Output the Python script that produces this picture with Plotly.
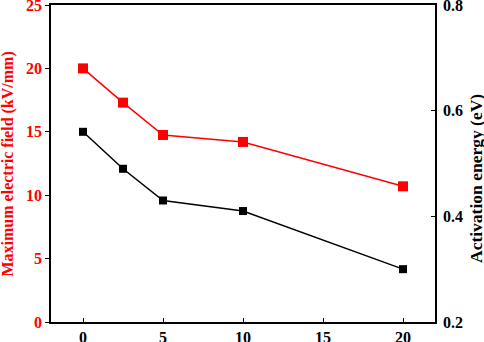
import plotly.graph_objects as go

x_vals = [0, 2.5, 5, 10, 20]
field_kv_mm = [20.0, 17.3, 14.75, 14.2, 10.7]
activation_ev = [0.56, 0.49, 0.43, 0.41, 0.30]

font_family = "Liberation Serif"
tick_size = 16

fig = go.Figure()
fig.add_trace(go.Scatter(
    x=x_vals, y=field_kv_mm, mode="lines+markers",
    line=dict(color="#ff0000", width=1.5),
    marker=dict(symbol="square", size=10, color="#ff0000"),
    yaxis="y", showlegend=False, cliponaxis=False,
))
fig.add_trace(go.Scatter(
    x=x_vals, y=activation_ev, mode="lines+markers",
    line=dict(color="#000000", width=1.5),
    marker=dict(symbol="square", size=8, color="#000000"),
    yaxis="y2", showlegend=False, cliponaxis=False,
))

fig.update_layout(
    width=484, height=342,
    margin=dict(l=51, r=49, t=5, b=20, autoexpand=False),
    paper_bgcolor="white", plot_bgcolor="white",
    font=dict(family=font_family, size=tick_size, color="black"),
    xaxis=dict(
        range=[-2, 22], tickvals=[0, 5, 10, 15, 20],
        showline=True, linecolor="black", linewidth=1.5, mirror=True,
        ticks="inside", ticklen=4, tickwidth=1, tickcolor="black",
        showgrid=False, zeroline=False, automargin=False,
        ticklabelstandoff=0, ticklabeloverflow="allow",
        tickfont=dict(family=font_family, size=tick_size, color="black", weight="bold"),
    ),
    yaxis=dict(
        range=[0, 25], tickvals=[0, 5, 10, 15, 20, 25],
        showline=True, linecolor="black", linewidth=1.5,
        ticks="outside", ticklen=4, tickwidth=1, tickcolor="black",
        showgrid=False, zeroline=False, automargin=False,
        ticklabeloverflow="allow",
        tickfont=dict(family=font_family, size=tick_size, color="#ff0000", weight="bold"),
    ),
    yaxis2=dict(
        range=[0.2, 0.8], tickvals=[0.2, 0.4, 0.6, 0.8], tickformat=".1f",
        overlaying="y", side="right",
        showline=True, linecolor="black", linewidth=1.5,
        ticks="inside", ticklen=4, tickwidth=1, tickcolor="black",
        showgrid=False, zeroline=False, automargin=False,
        ticklabelstandoff=3, ticklabeloverflow="allow",
        tickfont=dict(family=font_family, size=tick_size, color="black", weight="bold"),
    ),
    annotations=[
        dict(text="<b>Maximum electric field (kV/mm)</b>", textangle=-90,
             xref="paper", yref="paper", x=-51/384 + 7.5/384, y=(322 - 164) / 317,
             xanchor="center", yanchor="middle", showarrow=False,
             font=dict(family=font_family, size=16, color="#ff0000")),
        dict(text="<b>Activation energy (eV)</b>", textangle=-90,
             xref="paper", yref="paper", x=1 + (476 - 435) / 384, y=(322 - 179) / 317,
             xanchor="center", yanchor="middle", showarrow=False,
             font=dict(family=font_family, size=17.5, color="black")),
    ],
)

fig.write_html("out.html", config={"displayModeBar": False},
               post_script="document.body.style.margin='0';document.body.style.overflow='hidden';")
